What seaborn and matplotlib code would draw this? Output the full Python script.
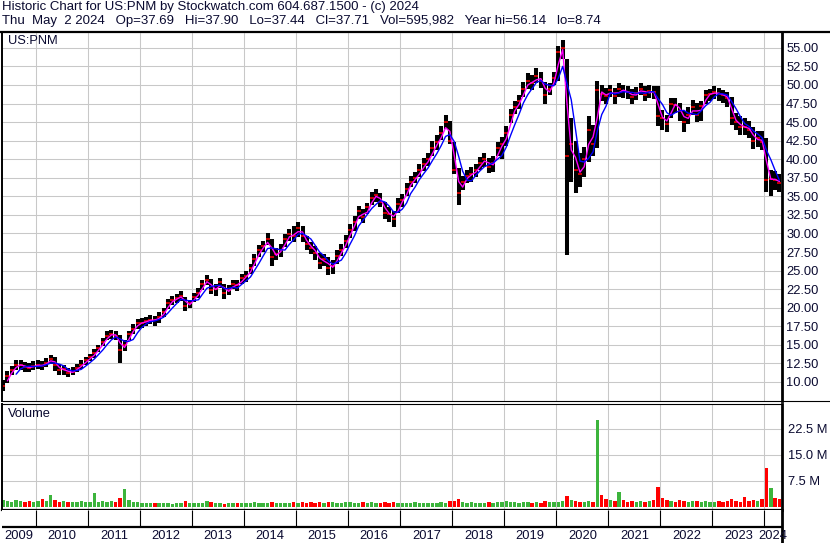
import matplotlib
matplotlib.use('Agg')
import matplotlib.pyplot as plt
from matplotlib.lines import Line2D
from matplotlib.ticker import FormatStrFormatter
import seaborn as sns
import pandas as pd
import numpy as np

# monthly bars, May 2009 .. Apr 2024
close = [9.5, 10.8, 11.6, 12.3, 12.3, 12.0, 11.9, 12.2,
         12.3, 12.2, 12.6, 13.1, 12.3, 11.6, 11.7, 11.2, 11.4, 11.9, 12.3, 12.9,
         13.3, 13.9, 14.6, 15.4, 16.2, 16.5, 16.2, 14.3, 15.0, 16.4, 17.2, 17.9,
         18.0, 18.2, 18.4, 18.3, 18.8, 19.4, 20.6, 21.0, 21.3, 21.6, 20.2, 20.6,
         21.5, 22.0, 23.2, 23.8, 22.4, 22.5, 23.4, 22.0, 22.4, 23.2, 23.0, 24.0,
         24.3, 25.3, 26.5, 27.8, 28.3, 29.3, 26.8, 27.3, 27.8, 29.2, 29.9, 29.7,
         30.8, 29.6, 28.6, 28.0, 27.4, 26.0, 26.6, 25.3, 25.6, 27.0, 27.8, 29.0,
         30.5, 31.5, 33.0, 32.2, 33.5, 34.8, 35.2, 34.2, 32.8, 32.6, 32.0, 34.0,
         34.5, 36.0, 37.0, 37.5, 38.5, 39.3, 40.0, 41.5, 42.3, 43.5, 45.0, 42.5,
         38.5, 35.5, 37.0, 37.8, 38.0, 38.5, 39.5, 40.0, 39.0, 39.5, 41.5, 42.0,
         43.5, 46.0, 47.0, 47.8, 49.5, 50.5, 50.2, 51.2, 50.5, 48.6, 49.5, 51.0,
         54.5, 55.0, 40.5, 42.0, 38.5, 38.0, 40.0, 44.0, 42.0, 49.3, 48.8, 48.5,
         49.3, 48.5, 49.4, 49.2, 49.0, 48.4, 48.9, 49.5, 48.7, 49.2, 49.0, 45.8,
         45.5, 44.8, 47.5, 47.3, 46.5, 45.0, 46.0, 47.0, 46.0, 47.2, 48.7, 48.8,
         49.0, 48.8, 48.6, 48.2, 45.5, 45.0, 44.4, 44.3, 44.0, 42.5, 42.8, 42.3,
         37.2, 37.4, 37.2, 36.8]

high = [10.3, 11.5, 12.2, 13.0, 12.9, 12.7, 12.5, 12.8,
        12.9, 12.8, 13.2, 13.7, 13.3, 12.4, 12.3, 11.9, 12.0, 12.4, 12.9, 13.4,
        13.8, 14.4, 15.0, 15.9, 16.8, 17.0, 16.9, 16.3, 15.6, 16.9, 17.8, 18.5,
        18.6, 18.8, 19.0, 18.9, 19.4, 20.0, 21.2, 21.6, 21.9, 22.2, 21.4, 21.1,
        22.0, 22.6, 23.8, 24.4, 23.9, 23.2, 24.0, 23.2, 23.0, 23.8, 23.7, 24.5,
        24.9, 25.9, 27.2, 28.5, 29.0, 30.0, 29.2, 28.0, 28.6, 29.9, 30.6, 31.0,
        31.6, 31.0, 29.6, 28.9, 28.3, 27.4, 27.3, 26.8, 26.4, 27.8, 28.6, 29.8,
        31.3, 32.3, 33.7, 33.3, 34.1, 35.6, 36.0, 35.4, 34.3, 33.5, 33.0, 34.8,
        35.3, 36.8, 37.8, 38.3, 39.3, 40.2, 40.8, 42.4, 43.2, 44.5, 46.0, 45.2,
        42.3, 38.8, 37.8, 38.6, 38.9, 39.3, 40.3, 40.9, 40.2, 40.4, 42.3, 43.0,
        44.5, 46.8, 47.9, 48.6, 50.4, 51.6, 51.3, 52.3, 51.8, 50.4, 50.3, 51.8,
        55.2, 56.1, 53.5, 45.5, 42.5, 40.8, 41.6, 45.8, 44.6, 50.5, 50.0, 49.6,
        50.0, 49.6, 50.2, 50.0, 49.8, 49.5, 49.7, 50.2, 49.8, 50.0, 49.8, 49.8,
        46.6, 46.0, 48.2, 48.3, 47.6, 46.5, 47.0, 48.0, 47.6, 47.9, 49.3, 49.4,
        49.8, 49.6, 49.3, 49.1, 48.4, 46.2, 45.8, 45.5, 45.2, 44.4, 43.8, 43.8,
        42.8, 38.5, 38.4, 38.0]

low = [8.8, 9.8, 10.9, 11.6, 11.6, 11.3, 11.3, 11.6,
       11.7, 11.6, 12.0, 12.4, 11.5, 11.0, 11.0, 10.7, 10.9, 11.3, 11.7, 12.3,
       12.8, 13.2, 14.0, 14.8, 15.6, 15.8, 15.6, 12.6, 14.2, 15.6, 16.5, 17.2,
       17.3, 17.6, 17.8, 17.6, 18.0, 18.7, 19.8, 20.4, 20.7, 20.9, 19.5, 19.9,
       20.8, 21.3, 22.4, 23.1, 21.8, 21.6, 22.6, 21.2, 21.7, 22.5, 22.3, 23.2,
       23.4, 24.5, 25.6, 26.9, 27.5, 28.4, 25.6, 26.4, 26.9, 28.2, 29.0, 28.8,
       29.5, 28.9, 27.8, 27.2, 26.4, 25.2, 25.6, 24.4, 24.6, 25.9, 27.0, 28.0,
       29.4, 30.4, 32.0, 31.4, 32.6, 33.8, 34.3, 33.5, 31.9, 31.6, 30.9, 32.8,
       33.6, 35.1, 36.2, 36.8, 37.6, 38.4, 39.1, 40.5, 41.3, 42.6, 44.1, 42.0,
       38.0, 33.9, 35.8, 36.8, 37.0, 37.6, 38.5, 39.0, 38.2, 38.3, 40.4, 40.0,
       41.8, 44.9, 46.1, 46.8, 48.4, 49.5, 49.3, 50.2, 49.6, 47.5, 48.6, 50.0,
       50.5, 53.5, 27.1, 37.0, 35.5, 36.3, 37.6, 39.6, 40.4, 41.5, 47.8, 47.5,
       48.4, 47.5, 48.4, 48.3, 48.1, 47.4, 48.0, 48.6, 47.8, 48.2, 48.1, 44.5,
       44.0, 43.6, 45.6, 46.2, 45.2, 43.6, 44.8, 45.9, 45.0, 45.2, 47.4, 47.8,
       48.1, 47.8, 47.6, 47.0, 44.6, 43.9, 43.3, 43.2, 42.8, 41.4, 41.6, 41.2,
       35.6, 35.0, 35.8, 35.6]

# volume, millions of shares
volume_m = [2.1, 1.7, 1.5, 1.9, 1.6, 1.4, 1.7, 1.4,
            1.6, 2.4, 1.8, 3.3, 1.9, 1.5, 1.6, 1.3, 1.5, 1.3, 1.6, 1.4,
            1.5, 4.0, 1.4, 1.6, 1.5, 1.8, 1.5, 2.6, 5.2, 1.9, 1.4, 1.3,
            1.2, 1.1, 1.2, 1.0, 1.1, 1.0, 1.2, 0.9, 1.0, 1.1, 1.6, 1.0,
            1.1, 1.2, 1.0, 1.6, 1.3, 1.2, 1.0, 0.9, 1.1, 1.0, 1.2, 1.1,
            1.0, 1.1, 1.3, 1.0, 1.2, 1.1, 1.5, 1.0, 1.2, 1.1, 1.0, 1.3,
            1.2, 1.4, 1.1, 1.3, 1.2, 1.5, 1.1, 1.4, 1.3, 1.2, 1.1, 1.4,
            1.3, 1.1, 1.2, 1.4, 1.0, 1.3, 1.1, 1.2, 1.3, 1.1, 1.4, 1.2,
            1.1, 1.2, 1.0, 1.3, 1.1, 1.2, 1.0, 1.1, 1.2, 1.3, 1.1, 1.6,
            1.8, 2.2, 1.4, 1.2, 1.3, 1.1, 1.2, 1.0, 1.3, 1.2, 1.5, 1.4,
            1.6, 1.4, 1.3, 1.2, 1.5, 1.3, 1.1, 1.4, 1.2, 1.6, 1.3, 1.5,
            1.4, 1.6, 3.0, 2.0, 1.7, 1.5, 1.3, 1.6, 1.4, 25.0, 3.5, 2.2,
            2.0, 1.8, 4.3, 1.9, 1.5, 1.7, 1.4, 1.6, 1.5, 1.7, 2.0, 5.8,
            2.6, 1.9, 1.6, 1.5, 2.0, 1.7, 1.5, 1.6, 1.8, 1.5, 1.7, 1.4,
            1.5, 1.6, 1.4, 1.8, 2.4, 1.6, 1.4, 2.9, 1.7, 2.0, 1.6, 2.2,
            11.3, 5.5, 2.6, 2.2]

price_ticks = [10.0, 12.5, 15.0, 17.5, 20.0, 22.5, 25.0, 27.5, 30.0, 32.5,
               35.0, 37.5, 40.0, 42.5, 45.0, 47.5, 50.0, 52.5, 55.0]
vol_ticks = [7.5e6, 15e6, 22.5e6]
vol_labels = ['7.5 M', '15.0 M', '22.5 M']
years = list(range(2009, 2025))

title1 = 'Historic Chart for US:PNM by Stockwatch.com 604.687.1500 - (c) 2024'
title2 = ('Thu  May  2 2024   Op=37.69   Hi=37.90   Lo=37.44   Cl=37.71   '
          'Vol=595,982   Year hi=56.14   lo=8.74')

months = pd.date_range('2009-05-01', '2024-04-01', freq='MS') + pd.Timedelta(days=14)
df = pd.DataFrame({'date': months, 'close': close, 'high': high, 'low': low,
                   'volume': np.array(volume_m) * 1e6})
df['ma_fast'] = df['close'].rolling(2).mean()
df['ma_slow'] = df['close'].rolling(4).mean()
up = df['close'].diff().fillna(1) >= 0
bar_colors = np.where(up, '#3cb43c', '#ff0000')

sns.set_theme(style='white')
plt.rcParams['font.family'] = ['Liberation Sans', 'DejaVu Sans']
txt = '#0a0a30'
grid_c = '#c8c8c8'

W, H = 830, 543
fig = plt.figure(figsize=(W / 100, H / 100), dpi=100)


def box(l, t, r, b):
    return [l / W, 1 - b / H, (r - l) / W, (b - t) / H]


x0, x1 = pd.Timestamp('2009-05-08'), pd.Timestamp('2024-05-03')
year_starts = pd.to_datetime([f'{y}-01-01' for y in years[1:]])

# price panel
ax = fig.add_axes(box(2, 33, 782, 401))
ax.vlines(df['date'], df['low'], df['high'], color='black', lw=2.9)
ax.plot(df['date'], df['close'], ls='none', marker='_', color='red', ms=3, mew=1.1)
sns.lineplot(data=df, x='date', y='ma_fast', color='#ff00ff', lw=1, ax=ax)
sns.lineplot(data=df, x='date', y='ma_slow', color='#0000ff', lw=1, ax=ax)
ax.set_xlim(x0, x1)
ax.set_ylim(7.44, 57.0)
ax.set_yticks(price_ticks)
ax.yaxis.set_major_formatter(FormatStrFormatter('%.2f'))
ax.yaxis.tick_right()
ax.set_xticks(year_starts)
ax.tick_params(axis='x', length=0, labelbottom=False)
ax.tick_params(axis='y', length=0, pad=3, labelsize=9.3, labelcolor=txt)
ax.grid(True, color=grid_c, lw=0.75)
ax.set_axisbelow(True)
ax.set_xlabel('')
ax.set_ylabel('')
ax.text(0.008, 0.995, 'US:PNM', transform=ax.transAxes, va='top', ha='left',
        fontsize=9.3, color=txt)

# volume panel
axv = fig.add_axes(box(2, 404, 782, 510))
axv.bar(df['date'], df['volume'], width=24, color=bar_colors, lw=0)
axv.set_xlim(x0, x1)
axv.set_ylim(-0.9e6, 29.7e6)
axv.set_yticks(vol_ticks)
axv.set_yticklabels(vol_labels)
axv.yaxis.tick_right()
axv.set_xticks(year_starts)
axv.tick_params(axis='x', length=0, labelbottom=False)
axv.tick_params(axis='y', length=0, pad=4, labelsize=9.3, labelcolor=txt)
axv.grid(True, color=grid_c, lw=0.75)
axv.set_axisbelow(True)
axv.text(0.008, 0.96, 'Volume', transform=axv.transAxes, va='top', ha='left',
         fontsize=9.3, color=txt)

# year strip
axd = fig.add_axes(box(2, 510, 782, 543))
axd.set_xlim(x0, x1)
axd.set_ylim(0, 1)
axd.vlines(year_starts, 0.485, 1, color='black', lw=0.8)
axd.axhline(0.485, color='black', lw=1.6)
for y in years:
    a = max(pd.Timestamp(f'{y}-01-01'), x0)
    b = min(pd.Timestamp(f'{y + 1}-01-01'), x1)
    axd.text(a + (b - a) / 2, 0.22, str(y), ha='center', va='center',
             fontsize=9.3, color=txt)
axd.set_xticks([])
axd.set_yticks([])

for a in (ax, axv, axd):
    for s in a.spines.values():
        s.set_visible(False)
    a.spines['right'].set_visible(True)
    a.spines['right'].set_color('black')
    a.spines['right'].set_linewidth(2.0)
for a in (ax, axv):
    a.spines['left'].set_visible(True)
    a.spines['left'].set_color('black')
    a.spines['left'].set_linewidth(1.4)
ax.spines['bottom'].set_visible(True)
ax.spines['bottom'].set_color('black')
ax.spines['bottom'].set_linewidth(0.8)
axv.spines['top'].set_visible(True)
axv.spines['top'].set_color('black')
axv.spines['top'].set_linewidth(0.8)
axv.spines['bottom'].set_visible(True)
axv.spines['bottom'].set_color('black')
axv.spines['bottom'].set_linewidth(1.6)

# header and frame lines
fig.text(2 / W, 1 - 1 / H, title1, va='top', ha='left', fontsize=9.5, color=txt)
fig.text(2 / W, 1 - 15 / H, title2, va='top', ha='left', fontsize=9.5, color=txt)
fig.add_artist(Line2D([0, 1], [1 - 32 / H, 1 - 32 / H], color='black', lw=1.6))
fig.add_artist(Line2D([782 / W, 1], [1 - 401 / H, 1 - 401 / H], color='black', lw=0.8))

fig.savefig('out.png', dpi=100)
